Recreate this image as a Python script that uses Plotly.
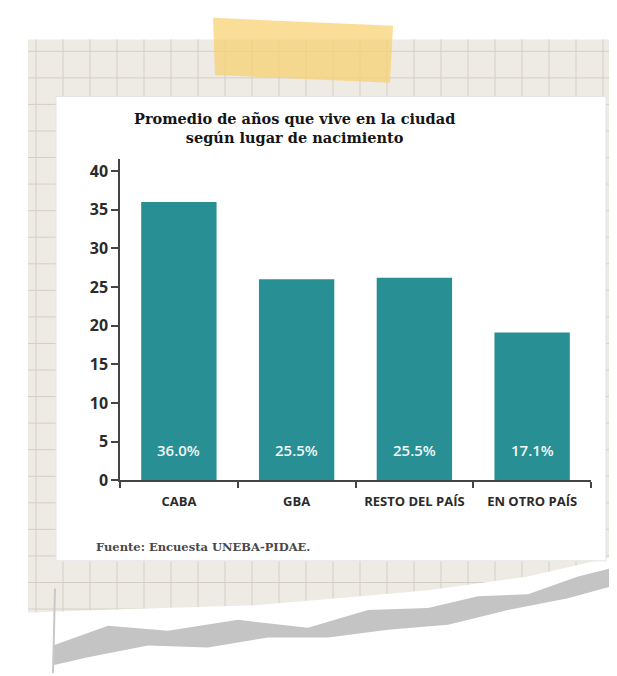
import plotly.graph_objects as go

# ---------------- data ----------------
categories = ["CABA", "GBA", "RESTO DEL PAÍS", "EN OTRO PAÍS"]
years = [36.0, 26.0, 26.2, 19.1]
pct_labels = ["36.0%", "25.5%", "25.5%", "17.1%"]
y_ticks = [0, 5, 10, 15, 20, 25, 30, 35, 40]
title_text = "Promedio de años que vive en la ciudad<br>según lugar de nacimiento"
source_text = "Fuente: Encuesta UNEBA-PIDAE."

# ---------------- geometry helpers (pixels -> paper) ----------------
W, H = 617, 676


def px(x):
    return x / W


def py(y):
    return 1 - y / H


def poly(points):
    return "M " + " L ".join(f"{px(x):.4f},{py(y):.4f}" for x, y in points) + " Z"


BAR = "#288f94"
INK = "#2b2b2b"

fig = go.Figure()
fig.add_trace(go.Bar(
    x=categories, y=years,
    marker=dict(color=BAR, line=dict(width=0)),
    hoverinfo="x+y",
))

shapes = []
# graph-paper sheet
SX0, SX1, SY0, SY1 = 20, 612, 32, 640
shapes.append(dict(type="rect", xref="paper", yref="paper", layer="below",
                   x0=px(SX0), x1=px(SX1), y0=py(SY1), y1=py(SY0),
                   fillcolor="rgb(238,235,228)", line=dict(width=0)))
gx = SX0 + 8
while gx <= SX1:
    shapes.append(dict(type="line", xref="paper", yref="paper", layer="below",
                       x0=px(gx), x1=px(gx), y0=py(SY1), y1=py(SY0),
                       line=dict(color="rgb(212,207,198)", width=1)))
    gx += 27
gy = SY0 + 12
while gy <= SY1:
    shapes.append(dict(type="line", xref="paper", yref="paper", layer="below",
                       x0=px(SX0), x1=px(SX1), y0=py(gy), y1=py(gy),
                       line=dict(color="rgb(212,207,198)", width=1)))
    gy += 27
# torn bottom: white tear, grey strip and sheet edge
shapes.append(dict(type="path", xref="paper", yref="paper", layer="below",
                   path=poly([(10, 615), (120, 611), (250, 607), (330, 600), (420, 592),
                              (520, 578), (617, 555), (617, 676), (10, 676)]),
                   fillcolor="white", line=dict(width=0)))
shapes.append(dict(type="path", xref="paper", yref="paper", layer="below",
                   path=poly([(45, 648), (100, 628), (160, 633), (230, 622), (300, 630),
                              (360, 612), (420, 610), (470, 598), (520, 596), (570, 578),
                              (617, 566), (617, 584), (560, 600), (500, 612), (440, 627),
                              (380, 632), (320, 640), (260, 640), (200, 650), (140, 648),
                              (80, 660), (45, 668)]),
                   fillcolor="rgb(196,196,196)", line=dict(width=0)))
shapes.append(dict(type="line", xref="paper", yref="paper", layer="below",
                   x0=px(45), x1=px(47), y0=py(676), y1=py(590),
                   line=dict(color="rgb(200,200,200)", width=2)))
# white clipping
shapes.append(dict(type="rect", xref="paper", yref="paper", layer="below",
                   x0=px(48), x1=px(598), y0=py(562), y1=py(90),
                   fillcolor="white", line=dict(color="rgb(228,228,228)", width=1)))
# tape
shapes.append(dict(type="path", xref="paper", yref="paper", layer="above",
                   path=poly([(205, 10), (385, 18), (382, 76), (207, 68)]),
                   fillcolor="rgba(248,208,110,0.72)", line=dict(width=0)))

annotations = []
annotations.append(dict(text=title_text, xref="paper", yref="paper",
                        x=px(286), y=py(122), xanchor="center", yanchor="middle",
                        showarrow=False, align="center",
                        font=dict(family="DejaVu Serif", size=14.5, color="#151515",
                                  weight=700)))
annotations.append(dict(text=source_text, xref="paper", yref="paper",
                        x=px(86), y=py(548), xanchor="left", yanchor="middle",
                        showarrow=False,
                        font=dict(family="DejaVu Serif", size=11.5, color="#4a4a4a",
                                  weight=700)))
for c, v, lab in zip(categories, years, pct_labels):
    annotations.append(dict(text=lab, x=c, y=0, xref="x", yref="y",
                            yshift=30, showarrow=False,
                            font=dict(family="Open Sans", size=15, color="#f2f7f7",
                                      weight=600)))

fig.update_layout(
    width=W, height=H,
    margin=dict(l=0, r=0, t=0, b=0),
    paper_bgcolor="white",
    plot_bgcolor="rgba(0,0,0,0)",
    bargap=0.36,
    showlegend=False,
    shapes=shapes,
    annotations=annotations,
    xaxis=dict(
        domain=[px(112), px(583)],
        type="category",
        showline=True, linecolor="#444", linewidth=1.5,
        ticks="outside", tickson="boundaries", ticklen=6, tickcolor="#444",
        tickwidth=1.5,
        showgrid=False, zeroline=False,
        ticklabelstandoff=8,
        tickfont=dict(family="Open Sans", size=13, color=INK, weight=700),
    ),
    yaxis=dict(
        domain=[py(480), py(154)],
        range=[0, 41.5],
        tickvals=y_ticks,
        showline=True, linecolor="#444", linewidth=1.5,
        ticks="outside", ticklen=7, tickcolor="#444", tickwidth=1.5,
        showgrid=False, zeroline=False,
        tickfont=dict(family="Open Sans", size=16, color=INK, weight=700),
    ),
)

fig.write_html("out.html")
